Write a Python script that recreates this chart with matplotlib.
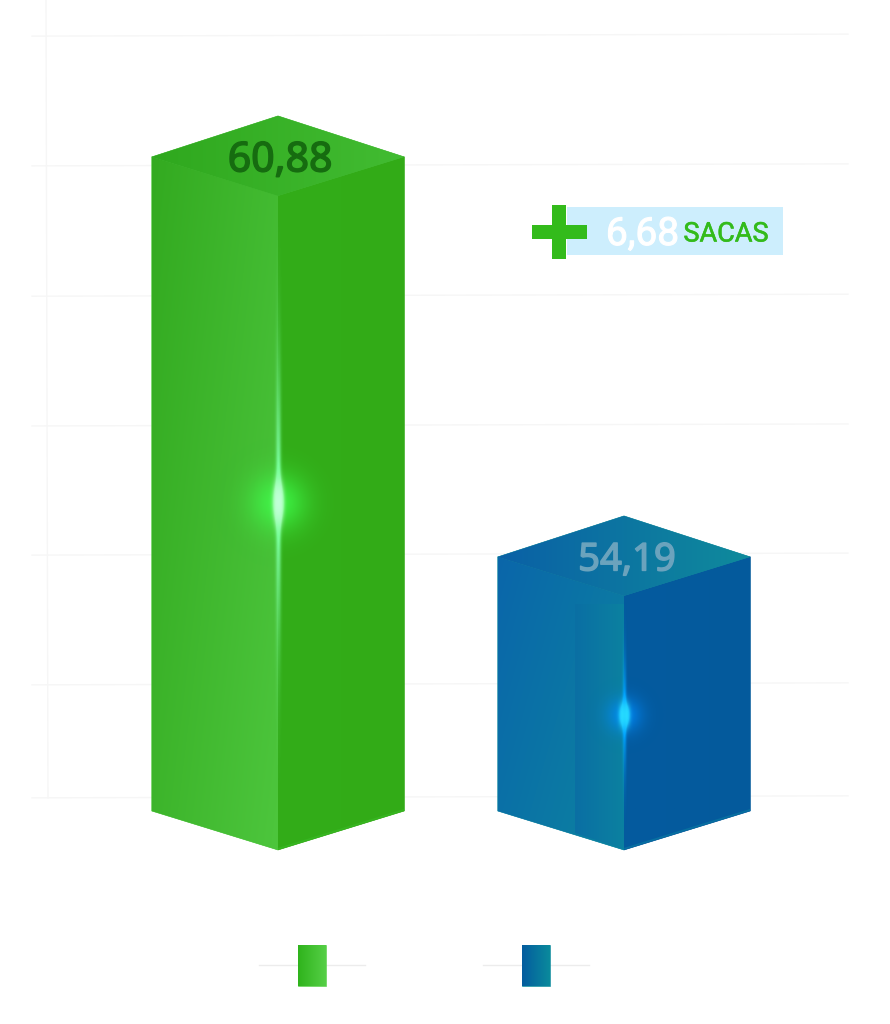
import numpy as np
import matplotlib
matplotlib.use('Agg')
import matplotlib.pyplot as plt
import matplotlib.patheffects as pe
from matplotlib.colors import to_rgb
from matplotlib.patches import Polygon, Rectangle

# %%
values = [60.88, 54.19]
value_labels = ['60,88', '54,19']
label_sizes = [29.5, 27.5]
diff_label = '6,68'
diff_unit = 'SACAS'
grid_values = [50.16, 52.05, 54.22, 56.38, 58.55, 60.73, 62.90]

W, H = 890, 1024
base_val = 49.94     # the axis does not start at zero
px_per_val = 59.79
base_px = 811
center_px = [278, 624]
px_per_cat = center_px[1] - center_px[0]

# colours of each box: left face, right face, top face
green = dict(left=('#33aa20', '#4dc63d'), right=('#33ad19', '#32ab17'), top=('#2fa81e', '#42bc32'),
             edge='#3cc02a', text='#166c10', glow=(0.25, 1.0, 0.3), line=(0.5, 1.0, 0.65), core=(0.92, 1.0, 1.0))
blue = dict(left=('#0a66aa', '#0c84a0'), right=('#045b9f', '#045a9c'), top=('#0a60a6', '#0f8b9c'),
            edge='#0c86a4', text='#6ba3bd', glow=(0.0, 0.55, 1.0), line=(0.0, 0.65, 1.0), core=(0.2, 0.95, 1.0))
styles = [green, blue]

fig = plt.figure(figsize=(W / 100, H / 100), dpi=100)
ax = fig.add_axes([0, 0, 1, 1])
ax.set_xlim(-center_px[0] / px_per_cat, (W - center_px[0]) / px_per_cat)
ax.set_ylim(base_val + (base_px - H) / px_per_val, base_val + base_px / px_per_val)
ax.axis('off')

half_w = 126.3 / px_per_cat
depth = 39 / px_per_val
depth_top = 41 / px_per_val


def fx(px):
  return (px - center_px[0]) / px_per_cat


def fy(py):
  return base_val + (base_px - py) / px_per_val


def grad_poly(pts, c0, c1, vert=0.0, z=3, under=True):
  # diagonal gradient, clipped to the polygon; solid polygon under it hides the seams
  pts = np.array(pts)
  if under:
    ax.add_patch(Polygon(pts, closed=True, fc=c1, ec=c1, lw=0.4, zorder=z - 0.5))
  x0, x1 = pts[:, 0].min(), pts[:, 0].max()
  y0, y1 = pts[:, 1].min(), pts[:, 1].max()
  xx, yy = np.meshgrid(np.linspace(0, 1, 128), np.linspace(0, 1, 256))
  t = np.clip((1 - vert) * xx + vert * yy, 0, 1)[..., None]
  img = (1 - t) * np.array(to_rgb(c0)) + t * np.array(to_rgb(c1))
  im = ax.imshow(img, extent=(x0, x1, y0, y1), origin='upper', aspect='auto', zorder=z, interpolation='bilinear')
  clip = Polygon(pts, closed=True, transform=ax.transData, fc='none', ec='none')
  ax.add_patch(clip)
  im.set_clip_path(clip)


def glow(cx, cy, style, halo_px, line_px, line_w, z=6):
  # light spot on the front edge of the box
  x0, x1 = cx - 0.25, cx + 0.25
  y0, y1 = cy - line_px * 1.6 / px_per_val, cy + line_px * 1.6 / px_per_val
  xx, yy = np.meshgrid(np.linspace(x0, x1, 347), np.linspace(y0, y1, 800))
  dx = (xx - cx) * px_per_cat
  dy = (yy - cy) * px_per_val
  halo = 0.8 * np.exp(-(dx ** 2 + dy ** 2) / (2 * (halo_px * 0.5) ** 2))
  streak = 0.95 * np.exp(-dx ** 2 / (2 * line_w ** 2)) * np.exp(-dy ** 2 / (2 * (line_px * 0.55) ** 2))
  core = np.exp(-dx ** 2 / (2 * 2.8 ** 2)) * np.exp(-dy ** 2 / (2 * (halo_px * 0.3) ** 2))
  a = np.clip(halo + streak + core, 0, 1)
  total = np.maximum(halo + streak + 4 * core, 1e-4)[..., None]
  rgb = (4 * core[..., None] * np.array(style['core']) + streak[..., None] * np.array(style['line'])
         + halo[..., None] * np.array(style['glow'])) / total
  rgba = np.dstack([np.clip(rgb, 0, 1), a])
  ax.imshow(rgba, extent=(x0, x1, y0, y1), origin='lower', aspect='auto', zorder=z, interpolation='bilinear')


# %% grid, very faint and slightly tilted
for g in grid_values:
  ax.plot([fx(32), fx(848)], [g, g + 2 / px_per_val], color='#f6f6f6', lw=1, zorder=1)
ax.plot([fx(46), fx(48)], [fy(0), grid_values[0]], color='#f6f6f6', lw=1, zorder=1)

# %% boxes
for i, (v, s) in enumerate(zip(values, styles)):
  l, r = i - half_w, i + half_w
  b = base_val
  grad_poly([(i, v - depth), (r, v), (r, b), (i, b - depth)], s['right'][0], s['right'][1])
  grad_poly([(l, v), (i, v - depth), (i, b - depth), (l, b)], s['left'][0], s['left'][1], vert=0.4)
  grad_poly([(l, v), (i, v + depth_top), (r, v), (i, v - depth)], s['top'][0], s['top'][1])
  # thin lit rim along the lower edge of the right face
  ax.plot([i, r], [b - depth + 0.02, b + 0.02], color=s['edge'], lw=1.2, alpha=0.5, zorder=4,
          solid_capstyle='butt')
  ax.text(i + (2 + i) / px_per_cat, v - 3.5 / px_per_val, value_labels[i], color=s['text'], fontsize=label_sizes[i],
          family=['Noto Sans', 'DejaVu Sans'], ha='center', va='center', zorder=7,
          path_effects=[pe.withStroke(linewidth=1.1, foreground=s['text'])])

# darker strip on the blue front face
grad_poly([(fx(575), fy(604)), (fx(624), fy(604)), (fx(624), fy(849)), (fx(575), fy(833))],
          '#0a6fa4', '#0c81a0', z=4, under=False)

glow(0, fy(503), green, 40, 175, 1.8)
glow(1, fy(715), blue, 24, 70, 1.3)

# %% difference callout
ax.add_patch(Rectangle((fx(567), fy(255)), fx(783) - fx(567), fy(207) - fy(255), fc='#cdeefd', ec='none', zorder=3))
ax.add_patch(Rectangle((fx(552), fy(259)), fx(566) - fx(552), fy(205) - fy(259), fc='#33bb1b', ec='none', zorder=4))
ax.add_patch(Rectangle((fx(532), fy(239)), fx(587) - fx(532), fy(225) - fy(239), fc='#33bb1b', ec='none', zorder=4))
ax.text(fx(642.5), fy(234.5), diff_label, color='white', fontsize=28, family=['Roboto', 'DejaVu Sans'],
        ha='center', va='center', zorder=5, path_effects=[pe.withStroke(linewidth=0.8, foreground='white')])
ax.text(fx(726), fy(234), diff_unit, color='#33bb1b', fontsize=19.5, family=['Roboto', 'DejaVu Sans'],
        ha='center', va='center', zorder=5, path_effects=[pe.withStroke(linewidth=0.4, foreground='#33bb1b')])

# %% legend, swatches without text
for px, c0, c1 in [(298, '#2fb31c', '#55cf46'), (522, '#045c9f', '#0a8a9c')]:
  ax.plot([fx(px - 39), fx(px + 67)], [fy(965), fy(965)], color='#ececec', lw=1, zorder=1)
  grad_poly([(fx(px), fy(945)), (fx(px + 28), fy(945)), (fx(px + 28), fy(986)), (fx(px), fy(986))], c0, c1)

fig.savefig('out.png', dpi=100, facecolor='white')
